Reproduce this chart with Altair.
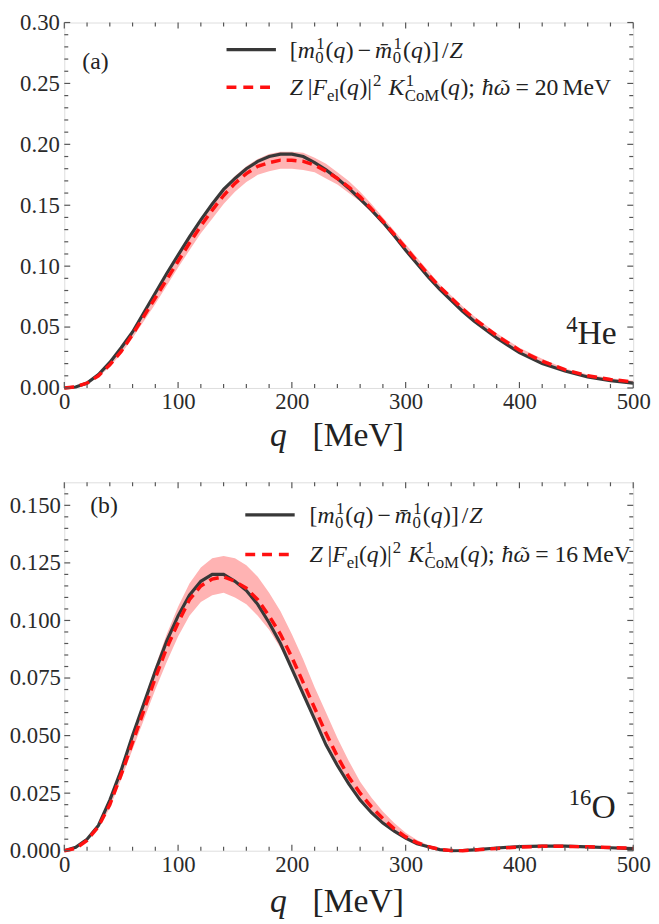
import altair as alt
import pandas as pd

# ---------------- data ----------------
q_he = [0, 10, 20, 30, 40, 50, 60, 70, 80, 90, 100, 110, 120, 130, 140, 150, 160, 170, 180, 190,
        200, 210, 220, 230, 240, 250, 260, 270, 280, 290, 300, 310, 320, 330, 340, 350, 360, 370,
        380, 390, 400, 420, 440, 460, 480, 500]
he_exact = [0.000, 0.0008, 0.004, 0.011, 0.021, 0.033, 0.046, 0.062, 0.078, 0.094, 0.109, 0.124,
            0.138, 0.151, 0.163, 0.172, 0.180, 0.186, 0.190, 0.192, 0.192, 0.190, 0.185, 0.179,
            0.172, 0.164, 0.155, 0.146, 0.136, 0.125, 0.113, 0.102, 0.091, 0.081, 0.072, 0.063,
            0.055, 0.048, 0.041, 0.035, 0.029, 0.020, 0.014, 0.009, 0.006, 0.004]
he_com = [0.000, 0.001, 0.004, 0.010, 0.019, 0.030, 0.044, 0.059, 0.074, 0.089, 0.104, 0.119,
          0.133, 0.146, 0.158, 0.168, 0.176, 0.182, 0.185, 0.187, 0.187, 0.186, 0.183, 0.178,
          0.172, 0.165, 0.157, 0.147, 0.137, 0.126, 0.115, 0.104, 0.093, 0.083, 0.074, 0.065,
          0.057, 0.050, 0.043, 0.037, 0.031, 0.022, 0.015, 0.010, 0.007, 0.005]
he_lo = [0.0, 0.0008, 0.0035, 0.009, 0.0175, 0.028, 0.041, 0.055, 0.069, 0.084, 0.099, 0.113,
         0.127, 0.139, 0.151, 0.161, 0.169, 0.175, 0.178, 0.180, 0.180, 0.179, 0.177, 0.172,
         0.167, 0.160, 0.153, 0.144, 0.134, 0.123, 0.113, 0.102, 0.091, 0.081, 0.072, 0.063,
         0.055, 0.048, 0.041, 0.035, 0.030, 0.021, 0.014, 0.009, 0.006, 0.004]
he_hi = [0.0, 0.0012, 0.0045, 0.011, 0.0205, 0.032, 0.047, 0.063, 0.079, 0.094, 0.109, 0.124,
         0.139, 0.152, 0.164, 0.174, 0.182, 0.188, 0.192, 0.194, 0.194, 0.193, 0.189, 0.184,
         0.177, 0.170, 0.161, 0.151, 0.140, 0.129, 0.118, 0.107, 0.096, 0.085, 0.076, 0.067,
         0.059, 0.052, 0.045, 0.039, 0.033, 0.024, 0.016, 0.011, 0.008, 0.006]

q_o = [0, 10, 20, 30, 40, 50, 60, 70, 80, 90, 100, 110, 120, 130, 140, 150, 160, 170, 180, 190,
       200, 210, 220, 230, 240, 250, 260, 270, 280, 290, 300, 310, 320, 330, 340, 350, 360,
       380, 400, 420, 440, 460, 480, 500]
o_exact = [0.000, 0.0015, 0.005, 0.011, 0.022, 0.035, 0.050, 0.064, 0.078, 0.091, 0.102, 0.111,
           0.117, 0.120, 0.120, 0.117, 0.113, 0.107, 0.099, 0.090, 0.079, 0.068, 0.057, 0.046,
           0.037, 0.029, 0.022, 0.0165, 0.012, 0.0085, 0.0055, 0.003, 0.0017, 0.0005, 0.0,
           0.0001, 0.0004, 0.0012, 0.0018, 0.0020, 0.0020, 0.0017, 0.0013, 0.0009]
o_com = [0.000, 0.001, 0.0045, 0.0105, 0.020, 0.033, 0.047, 0.061, 0.075, 0.088, 0.099, 0.109,
         0.115, 0.118, 0.119, 0.117, 0.114, 0.109, 0.102, 0.094, 0.084, 0.073, 0.062, 0.051,
         0.041, 0.032, 0.025, 0.019, 0.014, 0.0095, 0.006, 0.0035, 0.0017, 0.0006, 0.0001,
         0.0, 0.0003, 0.0010, 0.0016, 0.0019, 0.0019, 0.0017, 0.0014, 0.0011]
o_lo = [0.0, 0.0009, 0.004, 0.0095, 0.0185, 0.031, 0.044, 0.057, 0.070, 0.082, 0.093, 0.102,
        0.108, 0.111, 0.112, 0.110, 0.107, 0.102, 0.096, 0.088, 0.079, 0.069, 0.058, 0.048,
        0.038, 0.030, 0.023, 0.017, 0.0125, 0.0085, 0.0053, 0.003, 0.0014, 0.0005, 0.0,
        0.0, 0.0002, 0.0008, 0.0014, 0.0017, 0.0017, 0.0015, 0.0012, 0.0010]
o_hi = [0.0, 0.0011, 0.005, 0.0115, 0.0215, 0.035, 0.050, 0.065, 0.080, 0.094, 0.106, 0.116,
        0.123, 0.127, 0.128, 0.127, 0.124, 0.119, 0.112, 0.104, 0.094, 0.083, 0.071, 0.060,
        0.049, 0.039, 0.030, 0.023, 0.017, 0.012, 0.0078, 0.0047, 0.0024, 0.0009, 0.0002,
        0.0001, 0.0005, 0.0013, 0.0019, 0.0022, 0.0022, 0.0020, 0.0016, 0.0013]

x_major = [0, 100, 200, 300, 400, 500]
x_minor = [20, 40, 60, 80, 120, 140, 160, 180, 220, 240, 260, 280, 320, 340, 360, 380,
           420, 440, 460, 480]
he_y_major = [0.0, 0.05, 0.10, 0.15, 0.20, 0.25, 0.30]
he_y_minor = [0.01, 0.02, 0.03, 0.04, 0.06, 0.07, 0.08, 0.09, 0.11, 0.12, 0.13, 0.14,
              0.16, 0.17, 0.18, 0.19, 0.21, 0.22, 0.23, 0.24, 0.26, 0.27, 0.28, 0.29]
o_y_major = [0.0, 0.025, 0.050, 0.075, 0.100, 0.125, 0.150]
o_y_minor = [0.005, 0.010, 0.015, 0.020, 0.030, 0.035, 0.040, 0.045, 0.055, 0.060, 0.065,
             0.070, 0.080, 0.085, 0.090, 0.095, 0.105, 0.110, 0.115, 0.120, 0.130, 0.135,
             0.140, 0.145, 0.155]

# ---------------- style ----------------
FONT = "Liberation Serif"
FR = "#555555"
BLACK = "#383838"
RED = "#ff1010"
BAND = "#ffb3b3"
TXT = "#222222"
LAB = "#2a2a2a"

W = 576
H1 = 370
H2 = 373
LEFT0 = 63.75   # page x of plot origin
TOP0 = 16.5     # page y of top plot origin
B0 = 482        # page y of bottom plot origin

# Times-compatible advance widths (per 1000 em)
REG_W = {' ': 250, '(': 333, ')': 333, '[': 333, ']': 333, '/': 278, '|': 200, ';': 278,
         '=': 564, '\u2212': 564, 'e': 444, 'l': 278, 'C': 667, 'o': 500, 'M': 889,
         'V': 722, 'H': 722, 'O': 722, 'a': 444, 'b': 500, '\u02dc': 333}
for _d in "0123456789":
    REG_W[_d] = 500
ITA_W = {'m': 722, 'q': 500, 'Z': 556, 'F': 611, 'K': 667, '\u0127': 500, '\u03c9': 667,
         '\u02dc': 333}
COMB = "\u0304\u0303"


def tw(s, it, fs):
    tab = ITA_W if it else REG_W
    return sum(0 if c in COMB else tab.get(c, 500) for c in s) * fs / 1000.0


def layout(pieces, x0, y0, fs, sfs=None, up=None, dn=None, anchor="left"):
    sfs = sfs or round(fs * 0.7)
    up = fs * 0.38 if up is None else up
    dn = fs * 0.23 if dn is None else dn
    rows = []
    x = 0.0
    for p in pieces:
        k = p[0]
        if k == "g":
            x += p[1]
        elif k in ("n", "i"):
            rows.append(dict(px=x, py=y0, t=p[1], fs=fs, it=(k == "i")))
            x += tw(p[1], k == "i", fs)
        elif k == "acc":   # italic base letter with a separate accent centred above it
            wb = tw(p[1], True, fs)
            afs = round(fs * 0.85)
            wa = tw(p[2], True, afs)
            rows.append(dict(px=x, py=y0, t=p[1], fs=fs, it=True))
            rows.append(dict(px=x + (wb - wa) / 2 + 1.5, py=y0 - 2, t=p[2], fs=afs, it=True))
            x += wb
        elif k == "sup":
            rows.append(dict(px=x + 1, py=y0 - up, t=p[1], fs=sfs, it=False))
            x += tw(p[1], False, sfs) + 1
        elif k == "sub":
            rows.append(dict(px=x, py=y0 + dn, t=p[1], fs=sfs, it=False))
            x += tw(p[1], False, sfs)
        elif k == "ss":
            rows.append(dict(px=x + 1.5, py=y0 - up, t=p[1], fs=sfs, it=False))
            rows.append(dict(px=x + 0.5, py=y0 + dn, t=p[2], fs=sfs, it=False))
            x += max(tw(p[1], False, sfs) + 1.5, tw(p[2], False, sfs) + 0.5) + 1
    if anchor == "right":
        shift = x0 - x
    elif anchor == "center":
        shift = x0 - x / 2
    else:
        shift = x0
    for r in rows:
        r["px"] += shift
    return rows


L1 = [("n", "["), ("i", "m"), ("ss", "1", "0"), ("n", "("), ("i", "q"), ("g", 0.5), ("n", ")"),
      ("g", 4), ("n", "\u2212"), ("g", 4), ("i", "m\u0304"), ("ss", "1", "0"), ("n", "("),
      ("i", "q"), ("g", 0.5), ("n", ")]"), ("g", 3), ("n", "/"), ("g", 1), ("i", "Z")]


def L2(mev):
    return [("i", "Z"), ("g", 5), ("n", "|"), ("i", "F"), ("sub", "el"), ("n", "("), ("i", "q"),
            ("g", 0.5), ("n", ")|"), ("sup", "2"), ("g", 7), ("i", "K"), ("ss", "1", "CoM"),
            ("n", "("), ("i", "q"), ("g", 0.5), ("n", ");"), ("g", 7), ("i", "\u0127"),
            ("acc", "\u03c9", "\u02dc"), ("g", 6), ("n", "="), ("g", 6), ("n", mev), ("g", 4),
            ("n", "MeV")]


TITLE = [("i", "q"), ("g", 26), ("n", "[MeV]")]

xscale = alt.Scale(domain=[0, 500], nice=False, zero=False)


def xaxis():
    return alt.Axis(values=x_major, format="d", title=None, ticks=False, domain=False,
                    grid=False, labelFont=FONT, labelFontSize=23, labelColor=LAB,
                    labelPadding=3, labelFlush=False)


def yaxis(vals, fmt, pad):
    return alt.Axis(values=vals, format=fmt, title=None, ticks=False, domain=False,
                    grid=False, labelFont=FONT, labelFontSize=23, labelColor=LAB,
                    labelPadding=pad, labelFlush=False)


def panel(q, exact, com, lo, hi, ydom, ymaj, ymin, yfmt, ypad, H, rows, samples):
    ys = alt.Scale(domain=ydom, nice=False, zero=False)
    yax = yaxis(ymaj, yfmt, ypad)
    X = alt.X("q:Q", scale=xscale, axis=xaxis())
    df = pd.DataFrame({"q": q, "exact": exact, "com": com, "lo": lo, "hi": hi})
    layers = [
        alt.Chart(df).mark_area(color=BAND, opacity=1).encode(
            x=X, y=alt.Y("lo:Q", scale=ys, axis=yax), y2="hi:Q"),
        alt.Chart(df).mark_line(color=BLACK, strokeWidth=3.2).encode(
            x=X, y=alt.Y("exact:Q", scale=ys, axis=yax)),
        alt.Chart(df).mark_line(color=RED, strokeWidth=3.5, strokeDash=[10, 6]).encode(
            x=X, y=alt.Y("com:Q", scale=ys, axis=yax)),
    ]
    # frame ticks (inward, all four sides)
    for vals, L in ((x_major, 6), (x_minor, 4)):
        d = pd.DataFrame({"t": vals})
        XT = alt.X("t:Q", scale=xscale, axis=xaxis())
        layers.append(alt.Chart(d).mark_rule(color=FR, strokeWidth=1.2).encode(
            x=XT, y=alt.value(H), y2=alt.value(H - L)))
        layers.append(alt.Chart(d).mark_rule(color=FR, strokeWidth=1.2).encode(
            x=XT, y=alt.value(0), y2=alt.value(L)))
    for vals, L in ((ymaj, 6), (ymin, 4)):
        d = pd.DataFrame({"t": vals})
        YT = alt.Y("t:Q", scale=ys, axis=yax)
        layers.append(alt.Chart(d).mark_rule(color=FR, strokeWidth=1.2).encode(
            y=YT, x=alt.value(0), x2=alt.value(L)))
        layers.append(alt.Chart(d).mark_rule(color=FR, strokeWidth=1.2).encode(
            y=YT, x=alt.value(W), x2=alt.value(W - L)))
    one = pd.DataFrame({"k": [0]})
    (sx1, sx2, sy1, sy2) = samples
    layers.append(alt.Chart(one).mark_rule(color=BLACK, strokeWidth=3.2).encode(
        x=alt.value(sx1), x2=alt.value(sx2), y=alt.value(sy1)))
    layers.append(alt.Chart(one).mark_rule(color=RED, strokeWidth=3.5, strokeDash=[10, 7]).encode(
        x=alt.value(sx1), x2=alt.value(sx2), y=alt.value(sy2)))
    data_layer = alt.layer(*layers)

    tdf = pd.DataFrame(rows)
    tn = tdf[~tdf["it"]][["px", "py", "t", "fs"]]
    ti = tdf[tdf["it"]][["px", "py", "t", "fs"]]
    enc = dict(x=alt.X("px:Q", scale=None), y=alt.Y("py:Q", scale=None), text="t:N",
               size=alt.Size("fs:Q", scale=None, legend=None))
    txt_n = alt.Chart(tn).mark_text(font=FONT, align="left", baseline="alphabetic",
                                    color=TXT).encode(**enc)
    txt_i = alt.Chart(ti).mark_text(font=FONT, align="left", baseline="alphabetic",
                                    color=TXT, fontStyle="italic").encode(**enc)
    text_layer = alt.layer(txt_n, txt_i)
    return alt.layer(data_layer, text_layer).resolve_scale(
        x="independent", y="independent", size="independent").properties(width=W, height=H)


# ---- texts, top panel (relative to its plot origin) ----
top_rows = []
top_rows += layout([("n", "(a)")], 82 - LEFT0, 63.5 - TOP0, 24)
top_rows += layout(L1, 292 - LEFT0, 52 - TOP0, 24)
top_rows += layout(L2("20"), 292 - LEFT0, 90 - TOP0, 24)
top_rows += layout([("sup", "4"), ("n", "He")], 623 - LEFT0, 342 - TOP0, 34, sfs=23, up=12,
                   anchor="right")
top_rows += layout(TITLE, 272 - LEFT0, 445 - TOP0, 34)
top_samples = (228 - LEFT0, 278 - LEFT0, 44 - TOP0, 82 - TOP0)

# ---- texts, bottom panel ----
bot_rows = []
bot_rows += layout([("n", "(b)")], 90 - LEFT0, 513 - B0, 24)
bot_rows += layout(L1, 312 - LEFT0, 523 - B0, 24)
bot_rows += layout(L2("16"), 312 - LEFT0, 563 - B0, 24)
bot_rows += layout([("sup", "16"), ("n", "O")], 622 - LEFT0, 822 - B0, 34, sfs=23, up=13,
                   anchor="right")
bot_rows += layout(TITLE, 272 - LEFT0, 917 - B0, 34)
bot_samples = (247 - LEFT0, 297 - LEFT0, 515 - B0, 555 - B0)

top = panel(q_he, he_exact, he_com, he_lo, he_hi, [0, 0.30], he_y_major, he_y_minor, ".2f", 5,
            H1, top_rows, top_samples)
bottom = panel(q_o, o_exact, o_com, o_lo, o_hi, [0, 0.16], o_y_major, o_y_minor, ".3f", 4,
               H2, bot_rows, bot_samples)

chart = alt.vconcat(top, bottom, spacing=B0 - (TOP0 + H1), bounds="flush").properties(
    padding={"left": 0, "top": -3, "right": 0, "bottom": 0}
).configure_view(stroke=FR, strokeWidth=1.3).configure(background="white")

chart.save("out.html", embed_options={"renderer": "svg", "actions": False})
